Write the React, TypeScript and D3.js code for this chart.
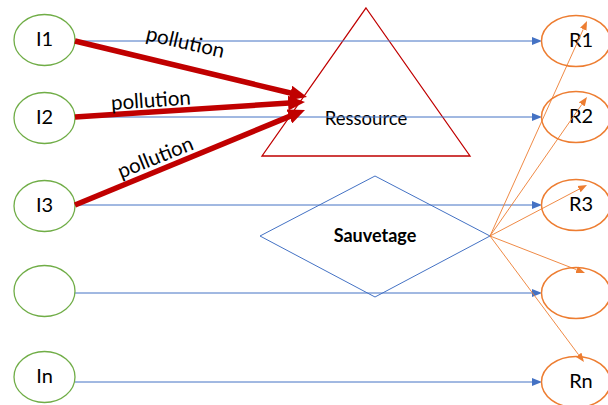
import React from 'react';
import * as d3 from 'd3';

// diagram content
const leftLabels = ['I1', 'I2', 'I3', '', 'In'];
const rightLabels = ['R1', 'R2', 'R3', '', 'Rn'];
const leftY = [40, 118, 206, 291, 377];
const rowY = [41, 117, 205, 293, 382];
const pollutionFrom = [0, 1, 2];
const pollutionTips = [
  [307, 97],
  [305, 102],
  [305, 110],
];
const pollutionLabels = [
  { x: 185, y: 44, rot: 13 },
  { x: 151, y: 102, rot: -4 },
  { x: 156, y: 159, rot: -22 },
];
const rescueTips = [
  [587, 21],
  [587, 97],
  [587, 185],
  [585, 273],
  [584, 362],
];

const W = 608;
const H = 405;
const RED = '#C00000';
const BLUE = '#4472C4';
const ORANGE = '#ED7D31';
const GREEN = '#70AD47';
const FONT = 'Lato, "Open Sans", sans-serif';

const line = d3.line<number[]>();

// shorten a segment so the arrow head sits on the tip
const shorten = (a: number[], b: number[], by: number) => {
  const dx = b[0] - a[0];
  const dy = b[1] - a[1];
  const len = Math.hypot(dx, dy);
  return [b[0] - (dx / len) * by, b[1] - (dy / len) * by];
};

const App: React.FC = () => {
  const lx = 44.5;
  const rx = 576;
  const diamondRight: number[] = [490, 236];
  const tri = [
    [366, 8],
    [470, 156],
    [262, 156],
  ];
  const diamond = [
    [375, 176],
    [490, 236],
    [375, 297],
    [260, 236],
  ];

  return (
    <svg
      width={W}
      height={H}
      style={{ position: 'absolute', left: 0, top: 0, background: '#fff' }}
      fontFamily={FONT}
    >
      <defs>
        <marker id="blueHead" markerUnits="userSpaceOnUse" markerWidth={10} markerHeight={10}
          refX={0} refY={4} orient="auto" viewBox="0 0 10 8">
          <path d="M0,0 L10,4 L0,8 Z" fill={BLUE} />
        </marker>
        <marker id="orangeHead" markerUnits="userSpaceOnUse" markerWidth={9} markerHeight={8}
          refX={0} refY={3.5} orient="auto" viewBox="0 0 9 7">
          <path d="M0,0 L9,3.5 L0,7 Z" fill={ORANGE} />
        </marker>
        <marker id="redHead" markerUnits="userSpaceOnUse" markerWidth={17} markerHeight={15}
          refX={1} refY={7.5} orient="auto" viewBox="0 0 17 15">
          <path d="M0,0 L17,7.5 L0,15 Z" fill={RED} />
        </marker>
      </defs>

      {/* triangle */}
      <path d={line(tri) + 'Z'} fill="none" stroke={RED} strokeWidth={1.3} />
      <text x={366} y={120} textAnchor="middle" dominantBaseline="middle" fontSize={18.5} fill="#000">
        Ressource
      </text>

      {/* diamond */}
      <path d={line(diamond) + 'Z'} fill="none" stroke={BLUE} strokeWidth={1} />
      <text x={375} y={237} textAnchor="middle" dominantBaseline="middle" fontSize={18}
        fontWeight="bold" fill="#000">
        Sauvetage
      </text>

      {/* blue horizontal arrows */}
      {rowY.map((y, i) => (
        <path key={'b' + i} d={line([[75, y], [532, y]]) ?? ''} stroke={BLUE} strokeWidth={1}
          fill="none" markerEnd="url(#blueHead)" />
      ))}

      {/* left nodes */}
      {leftLabels.map((t, i) => (
        <g key={'l' + i}>
          <ellipse cx={lx} cy={leftY[i]} rx={30.5} ry={25.5} fill="#fff" stroke={GREEN} strokeWidth={1.3} />
          <text x={lx} y={leftY[i] + 1} textAnchor="middle" dominantBaseline="middle" fontSize={20} fill="#000">
            {t}
          </text>
        </g>
      ))}

      {/* right nodes */}
      {rightLabels.map((t, i) => (
        <g key={'r' + i}>
          <ellipse cx={rx} cy={rowY[i]} rx={34.5} ry={25.5} fill="none" stroke={ORANGE} strokeWidth={1.5} />
          <text x={rx + 5} y={rowY[i] + 1} textAnchor="middle" dominantBaseline="middle" fontSize={20} fill="#000">
            {t}
          </text>
        </g>
      ))}

      {/* rescue arrows */}
      {rescueTips.map((tip, i) => (
        <path key={'o' + i} d={line([diamondRight, shorten(diamondRight, tip, 9)]) ?? ''}
          stroke={ORANGE} strokeWidth={0.9} fill="none" markerEnd="url(#orangeHead)" />
      ))}

      {/* pollution arrows */}
      {pollutionFrom.map((r, i) => {
        const start = [75, rowY[r]];
        const end = shorten(start, pollutionTips[i], 16);
        return (
          <path key={'p' + i} d={line([start, end]) ?? ''} stroke={RED} strokeWidth={5.5}
            fill="none" markerEnd="url(#redHead)" />
        );
      })}
      {pollutionLabels.map((p, i) => (
        <text key={'pl' + i} x={p.x} y={p.y} transform={`rotate(${p.rot},${p.x},${p.y})`}
          textAnchor="middle" dominantBaseline="middle" fontSize={20.5} fill="#000">
          pollution
        </text>
      ))}
    </svg>
  );
};

export default App;
